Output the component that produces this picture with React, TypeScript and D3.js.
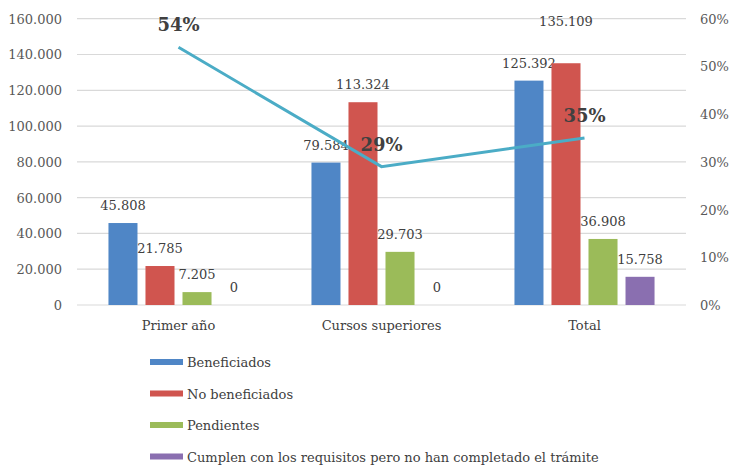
import React from "react";
import * as d3 from "d3";

const WIDTH = 731;
const HEIGHT = 465;
const PLOT = { left: 77, right: 686, top: 18.7, bottom: 305 };

const categories = ["Primer año", "Cursos superiores", "Total"];
const seriesNames = [
  "Beneficiados",
  "No beneficiados",
  "Pendientes",
  "Cumplen con los requisitos pero no han completado el trámite",
];
const beneficiados = [45808, 79584, 125392];
const noBeneficiados = [21785, 113324, 135109];
const pendientes = [7205, 29703, 36908];
const cumplen = [0, 0, 15758];
const porcentaje = [0.54, 0.29, 0.35];
const leftTicks = [0, 20000, 40000, 60000, 80000, 100000, 120000, 140000, 160000];
const rightTicks = [0, 0.1, 0.2, 0.3, 0.4, 0.5, 0.6];

const COLORS = ["#4f86c6", "#d0554f", "#9bbb59", "#8a6fb0"];
const LINE_COLOR = "#4bacc6";
const FONT = "'DejaVu Serif', serif";

// Excel moved this one label up so it would not touch its neighbour
const LABEL_LIFT: Record<string, number> = { "1-2": 24 };

const fmt = (v: number) => d3.format(",")(v).replace(/,/g, ".");

export default function App() {
  const seriesValues = [beneficiados, noBeneficiados, pendientes, cumplen];

  const x0 = d3
    .scaleBand<string>()
    .domain(categories)
    .range([PLOT.left, PLOT.right])
    .paddingInner(0.31)
    .paddingOuter(0.155);

  const x1 = d3
    .scaleBand<string>()
    .domain(seriesNames)
    .range([0, x0.bandwidth()])
    .paddingInner(0.216);

  const y = d3.scaleLinear().domain([0, 160000]).range([PLOT.bottom, PLOT.top]);
  const yR = d3.scaleLinear().domain([0, 0.6]).range([PLOT.bottom, PLOT.top]);

  const line = d3
    .line<number>()
    .x((_, i) => (x0(categories[i]) ?? 0) + x0.bandwidth() / 2)
    .y((d) => yR(d));

  return (
    <div style={{ position: "absolute", left: 0, top: 0 }}>
      <svg width={WIDTH} height={HEIGHT} style={{ display: "block", background: "#fff" }}>
        {/* gridlines */}
        {leftTicks.map((t) => (
          <line
            key={t}
            x1={PLOT.left}
            x2={PLOT.right}
            y1={y(t)}
            y2={y(t)}
            stroke="#d9d9d9"
            strokeWidth={1.2}
          />
        ))}
        {leftTicks.map((t) => (
          <text
            key={"l" + t}
            x={62}
            y={y(t) + 5}
            textAnchor="end"
            fontFamily={FONT}
            fontSize={13}
            fill="#595959"
          >
            {t === 0 ? "0" : fmt(t)}
          </text>
        ))}
        {rightTicks.map((t) => (
          <text
            key={"r" + t}
            x={700}
            y={yR(t) + 5}
            fontFamily={FONT}
            fontSize={13}
            fill="#595959"
          >
            {Math.round(t * 100) + "%"}
          </text>
        ))}

        {/* bars */}
        {categories.map((c, ci) => (
          <g key={c} transform={`translate(${x0(c)},0)`}>
            {seriesNames.map((s, si) => {
              const v = seriesValues[si][ci];
              const bx = x1(s) ?? 0;
              const lift = LABEL_LIFT[`${si}-${ci}`] ?? 0;
              return (
                <g key={s}>
                  {v > 0 && (
                    <rect
                      x={bx}
                      y={y(v)}
                      width={x1.bandwidth()}
                      height={y(0) - y(v)}
                      fill={COLORS[si]}
                    />
                  )}
                  <text
                    x={bx + x1.bandwidth() / 2}
                    y={y(v) - 13 - lift}
                    textAnchor="middle"
                    fontFamily={FONT}
                    fontSize={13}
                    fill="#404040"
                  >
                    {fmt(v)}
                  </text>
                </g>
              );
            })}
          </g>
        ))}

        {/* category labels */}
        {categories.map((c) => (
          <text
            key={"c" + c}
            x={(x0(c) ?? 0) + x0.bandwidth() / 2}
            y={330}
            textAnchor="middle"
            fontFamily={FONT}
            fontSize={13}
            fill="#404040"
          >
            {c}
          </text>
        ))}

        {/* percentage line */}
        <path d={line(porcentaje) ?? ""} fill="none" stroke={LINE_COLOR} strokeWidth={3} />
        {porcentaje.map((p, i) => (
          <text
            key={"p" + i}
            x={(x0(categories[i]) ?? 0) + x0.bandwidth() / 2}
            y={yR(p) - 16}
            textAnchor="middle"
            fontFamily={FONT}
            fontWeight="bold"
            fontSize={18}
            fill="#404040"
          >
            {Math.round(p * 100) + "%"}
          </text>
        ))}

        {/* legend */}
        {seriesNames.map((s, i) => (
          <g key={"lg" + s} transform={`translate(150,${362 + i * 31.5})`}>
            <rect x={0} y={-3} width={33} height={6} fill={COLORS[i]} />
            <text x={37} y={5} fontFamily={FONT} fontSize={13} fill="#404040">
              {s}
            </text>
          </g>
        ))}
      </svg>
    </div>
  );
}
